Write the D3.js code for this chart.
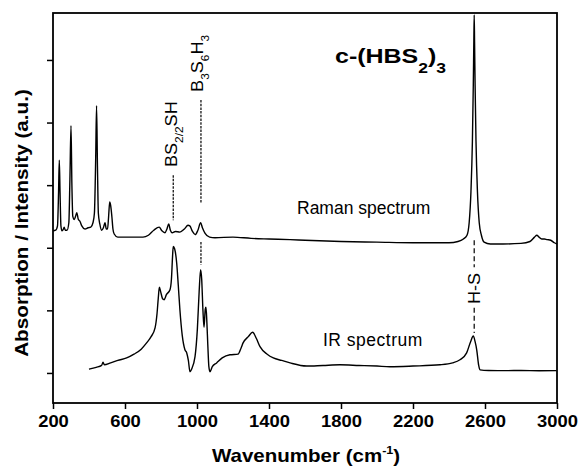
<!DOCTYPE html>
<html>
<head>
<meta charset="utf-8">
<script src="https://cdn.jsdelivr.net/npm/d3@7"></script>
<style>
  body { margin: 0; background: #fff; }
  svg { font-family: "Liberation Sans", Arial, sans-serif; }
</style>
</head>
<body>
<svg id="chart" width="581" height="468"></svg>
<script>
// x ticks (wavenumber) and y ticks (arbitrary units, no labels)
var xTicks = [200, 600, 1000, 1400, 1800, 2200, 2600, 3000];
var yTicks = [0, 1, 2, 3, 4, 5];

// Raman spectrum, [wavenumber, intensity]
var raman = [[200,2.27],[215,2.28],[225,2.35],[231,2.9],[235,3.40],[239,2.9],[244,2.35],[250,2.27],[258,2.3],[262,2.33],[268,2.28],[278,2.28],[288,2.4],[294,3.1],[300,3.95],[305,3.0],[310,2.5],[318,2.45],[325,2.5],[332,2.56],[340,2.46],[350,2.42],[360,2.35],[378,2.3],[395,2.32],[410,2.33],[422,2.4],[430,2.55],[437,3.4],[442,4.27],[447,3.3],[452,2.55],[460,2.38],[470,2.28],[480,2.32],[489,2.4],[496,2.3],[503,2.3],[509,2.5],[515,2.73],[520,2.68],[527,2.5],[533,2.3],[540,2.22],[560,2.17],[600,2.17],[650,2.17],[700,2.17],[730,2.2],[760,2.28],[790,2.33],[805,2.27],[822,2.24],[833,2.3],[843,2.38],[852,2.28],[862,2.24],[880,2.26],[905,2.25],[930,2.3],[950,2.36],[960,2.35],[975,2.26],[990,2.21],[1005,2.28],[1020,2.40],[1030,2.32],[1045,2.23],[1070,2.17],[1100,2.16],[1200,2.17],[1300,2.15],[1400,2.14],[1517,2.13],[1600,2.12],[1800,2.1],[2000,2.09],[2200,2.08],[2400,2.08],[2450,2.1],[2480,2.14],[2500,2.2],[2512,2.4],[2522,2.9],[2530,3.7],[2535,4.6],[2538,5.3],[2540,5.72],[2542,5.3],[2545,4.6],[2550,3.7],[2558,2.9],[2568,2.4],[2580,2.2],[2595,2.09],[2630,2.06],[2700,2.06],[2800,2.07],[2850,2.1],[2875,2.17],[2888,2.2],[2900,2.17],[2915,2.14],[2930,2.14],[2945,2.13],[2965,2.12],[2985,2.08],[3000,2.06]];

// IR spectrum, [wavenumber, absorption]
var ir = [[400,0.06],[440,0.09],[470,0.12],[478,0.17],[485,0.13],[520,0.16],[560,0.2],[609,0.24],[650,0.3],[690,0.38],[720,0.48],[745,0.58],[767,0.72],[778,0.95],[785,1.2],[791,1.37],[798,1.3],[810,1.18],[817,1.17],[830,1.25],[850,1.33],[858,1.5],[864,1.85],[868,2.02],[876,1.98],[887,1.76],[896,1.4],[905,1.01],[918,0.6],[933,0.37],[943,0.32],[952,0.2],[961,0.02],[970,0.06],[989,0.26],[1002,0.7],[1012,1.3],[1020,1.65],[1026,1.5],[1033,1.0],[1039,0.73],[1046,1.02],[1050,1.05],[1055,0.8],[1060,0.45],[1066,0.1],[1072,0.02],[1085,0.1],[1109,0.16],[1140,0.24],[1183,0.29],[1228,0.30],[1245,0.4],[1256,0.48],[1285,0.58],[1309,0.65],[1330,0.55],[1350,0.42],[1390,0.3],[1424,0.24],[1470,0.2],[1517,0.16],[1609,0.11],[1700,0.12],[1794,0.13],[1900,0.12],[2000,0.11],[2072,0.10],[2200,0.11],[2350,0.13],[2420,0.16],[2461,0.21],[2498,0.32],[2520,0.5],[2535,0.59],[2545,0.5],[2554,0.37],[2565,0.12],[2572,0.05],[2620,0.04],[2720,0.037],[2800,0.04],[2900,0.035],[2998,0.037]];

var svg = d3.select("#chart");
var mLeft = 53, mRight = 557, mTop = 13, mBottom = 403;

var x = d3.scaleLinear().domain([200, 3000]).range([mLeft, mRight]);
var y = d3.scaleLinear().domain([-0.48, 5.75]).range([mBottom, mTop]);

// axes
var xAxis = svg.append("g")
    .attr("transform", "translate(0," + mBottom + ")")
    .call(d3.axisBottom(x).tickValues(xTicks).tickFormat(d3.format("d"))
        .tickSize(6).tickSizeOuter(0).tickPadding(7));
xAxis.select(".domain").remove();
xAxis.selectAll("line").attr("stroke", "#000").attr("stroke-width", 1.5);
xAxis.selectAll("text")
    .attr("font-family", "'Liberation Sans', Arial, sans-serif")
    .attr("font-size", 16).attr("font-weight", "bold").attr("fill", "#000")
    .attr("transform", "scale(1.15,1)");

var yAxis = svg.append("g")
    .attr("transform", "translate(" + mLeft + ",0)")
    .call(d3.axisLeft(y).tickValues(yTicks).tickSize(6).tickSizeOuter(0).tickFormat(""));
yAxis.select(".domain").remove();
yAxis.selectAll("line").attr("stroke", "#000").attr("stroke-width", 1.5);

// frame
svg.append("rect")
    .attr("x", mLeft).attr("y", mTop)
    .attr("width", mRight - mLeft).attr("height", mBottom - mTop)
    .attr("fill", "none").attr("stroke", "#000").attr("stroke-width", 1.8);

// spectra
var line = d3.line().x(function(d){ return x(d[0]); }).y(function(d){ return y(d[1]); }).curve(d3.curveMonotoneX);
[raman, ir].forEach(function(s){
    svg.append("path").datum(s)
        .attr("d", line)
        .attr("fill", "none").attr("stroke", "#000").attr("stroke-width", 1.4)
        .attr("stroke-linejoin", "round");
});

// dashed marker lines at a wavenumber, between two intensities
function dash(w, v1, v2, pattern) {
    svg.append("line")
        .attr("x1", x(w)).attr("x2", x(w))
        .attr("y1", y(v1)).attr("y2", y(v2))
        .attr("stroke", "#000").attr("stroke-width", 1.2)
        .attr("stroke-dasharray", pattern);
}
dash(868, 3.16, 2.44, "2.5,1.2");
dash(1022, 4.36, 2.72, "2.5,1.2");
dash(1022, 2.09, 1.73, "2.5,1.2");
dash(2540, 2.12, 1.69, "5,3");
dash(2540, 1.04, 0.64, "5,3");

// rotated annotation with subscripts: parts are [text, isSub, backFromSub]
function vlabel(w, v, parts, dx) {
    var t = svg.append("text")
        .attr("transform", "translate(" + (x(w) + dx) + "," + y(v) + ") rotate(-90) scale(1.13,1)")
        .attr("font-size", 16);
    parts.forEach(function(p){
        t.append("tspan").text(p[0])
            .attr("font-size", p[1] ? 10.5 : 16)
            .attr("dy", p[1] ? 6 : (p[2] ? -6 : 0));
    });
    return t;
}
vlabel(868, 3.29, [["BS",0],["2/2",1],["SH",0,1]], 4);
vlabel(1022, 4.49, [["B",0],["3",1],["S",0,1],["6",1],["H",0,1],["3",1]], 2);
svg.append("text")
    .attr("transform", "translate(" + (x(2540) + 6) + "," + y(1.35) + ") rotate(-90) scale(1.13,1)")
    .attr("text-anchor", "middle").attr("font-size", 16).text("H-S");

// spectrum names
svg.append("text").attr("x", 297).attr("y", 214).attr("font-size", 17.5).text("Raman spectrum");
svg.append("text").attr("x", 323).attr("y", 346).attr("font-size", 17.5)
    .attr("letter-spacing", 0.5).text("IR spectrum");

// compound title
var title = svg.append("text")
    .attr("transform", "translate(335,63) scale(1.25,1)")
    .attr("font-size", 20).attr("font-weight", "bold");
title.append("tspan").text("c-(HBS");
title.append("tspan").text("2").attr("font-size", 14).attr("dy", 10);
title.append("tspan").text(")").attr("dy", -10);
title.append("tspan").text("3").attr("font-size", 14).attr("dy", 10);

// axis titles
var xl = svg.append("text")
    .attr("transform", "translate(306,462) scale(1.14,1)")
    .attr("text-anchor", "middle").attr("font-size", 18).attr("font-weight", "bold");
xl.append("tspan").text("Wavenumber (cm");
xl.append("tspan").text("-1").attr("font-size", 11).attr("dy", -8);
xl.append("tspan").text(")").attr("dy", 8);

svg.append("text")
    .attr("transform", "translate(28,223) rotate(-90) scale(1.15,1)")
    .attr("text-anchor", "middle").attr("font-size", 18).attr("font-weight", "bold")
    .text("Absorption / Intensity (a.u.)");
</script>
</body>
</html>
